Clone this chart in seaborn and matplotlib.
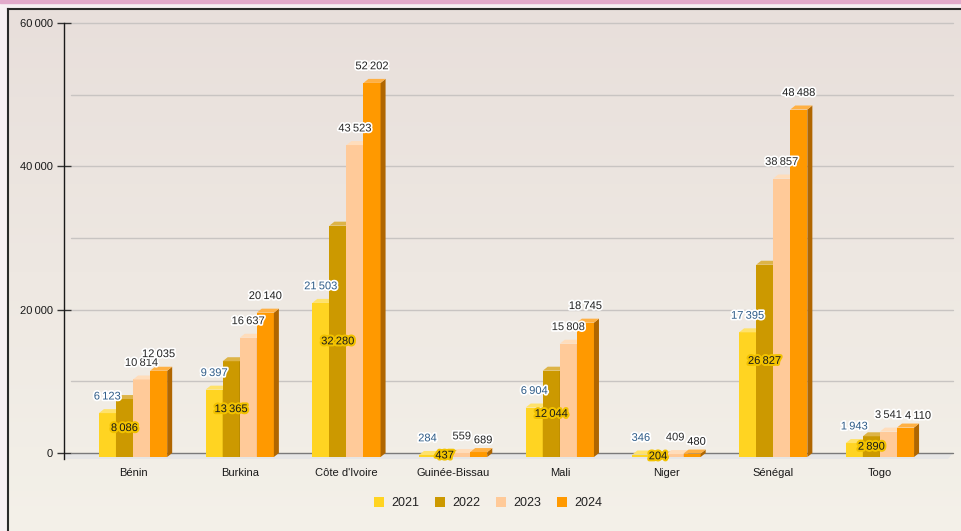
import numpy as np
import pandas as pd
import matplotlib
matplotlib.use("Agg")
import matplotlib.pyplot as plt
import seaborn as sns
from matplotlib.patches import Polygon, Rectangle, Patch
import matplotlib.patheffects as pe
from matplotlib.colors import to_rgb

countries = ["Bénin", "Burkina", "Côte d'Ivoire", "Guinée-Bissau", "Mali", "Niger", "Sénégal", "Togo"]
years = ["2021", "2022", "2023", "2024"]
v2021 = [6123, 9397, 21503, 284, 6904, 346, 17395, 1943]
v2022 = [8086, 13365, 32280, 437, 12044, 204, 26827, 2890]
v2023 = [10814, 16637, 43523, 559, 15808, 409, 38857, 3541]
v2024 = [12035, 20140, 52202, 689, 18745, 480, 48488, 4110]
yticks = [0, 20000, 40000, 60000]
ytick_labels = ["0", "20\u2009000", "40\u2009000", "60\u2009000"]

colors = ["#FFD422", "#CC9900", "#FFCA99", "#FF9900"]
top_colors = ["#FFE26A", "#DDB447", "#FFDDBB", "#FFB043"]
side_colors = ["#C9A000", "#8F6B00", "#D9A070", "#B06600"]
label_colors = ["#2E5C88", "#1A1A1A", "#2A2A2A", "#1F1F1F"]

sns.set_theme(style="white")
plt.rcParams['font.family'] = ['Liberation Sans', 'DejaVu Sans']

W, H = 962, 531
fig = plt.figure(figsize=(W / 100, H / 100), dpi=100)
fig.patch.set_facecolor('#F7F0F3')

# outer top pink strip
fig.add_artist(Rectangle((0, 1 - 3 / H), 1, 3 / H, transform=fig.transFigure,
                         color='#E2AACB', zorder=0))

# gradient panel with dark border
bg = fig.add_axes([8 / W, -0.01, 1 - 8 / W + 0.02, 1 - 9 / H + 0.01], zorder=0)
g = np.linspace(0, 1, 256)[:, None, None]
c_top = np.array(to_rgb('#E8DFDB'))
c_bot = np.array(to_rgb('#F4F1E9'))
img = c_top + (c_bot - c_top) * g
bg.imshow(img, aspect='auto', extent=[0, 1, 0, 1])
bg.set_xticks([])
bg.set_yticks([])
for s in ['right', 'bottom']:
    bg.spines[s].set_visible(False)
for s in ['left', 'top']:
    bg.spines[s].set_visible(True)
    bg.spines[s].set_color('#2A2A2A')
    bg.spines[s].set_linewidth(1.5)

# main axes
ax = fig.add_axes([64 / W, 1 - 453 / H, (953 - 64) / W, 430 / H], zorder=1)
ax.patch.set_alpha(0)

df = pd.DataFrame({
    'country': countries * 4,
    'year': np.repeat(years, len(countries)),
    'value': np.concatenate([v2021, v2022, v2023, v2024]),
})
sns.barplot(data=df, x='country', y='value', hue='year', hue_order=years,
            palette=colors, width=0.64, gap=0, saturation=1, legend=False,
            errorbar=None, ax=ax, linewidth=0)

x0lim, x1lim = -0.647, 7.685
ax.set_xlim(x0lim, x1lim)
ax.set_ylim(0, 60000)

px_x = (x1lim - x0lim) / (953 - 64)
px_y = 60000 / 430
dx = 5 * px_x
dy = 4 * px_y

# floor and grid (back wall)
ax.add_patch(Polygon([(x0lim, 0), (x1lim, 0), (x1lim - dx, -1.5 * dy), (x0lim, -1.5 * dy)],
                     closed=True, color='#E6E6E6', clip_on=False, zorder=0.3, lw=0))
for v in range(10000, 60001, 10000):
    ax.plot([x0lim + 1.4 * dx, x1lim], [v, v], color='#C8C4C2', lw=1, zorder=0.5, clip_on=False)
ax.plot([x0lim + 1.4 * dx, x1lim], [0, 0], color='#7A7A7A', lw=1, zorder=0.6, clip_on=False)

def fmt(v):
    return f"{v:,}".replace(",", "\u2009")

values = [v2021, v2022, v2023, v2024]
above = {}
for j, cont in enumerate(ax.containers):
    for i, rect in enumerate(cont):
        x = rect.get_x()
        w = rect.get_width()
        h = rect.get_height()
        z = 3 + j
        # front face sits one depth step in front of the back wall
        rect.set_y(-dy)
        rect.set_clip_on(False)
        rect.set_zorder(z)
        ax.add_patch(Polygon([(x + w, -dy), (x + w + dx, 0), (x + w + dx, h), (x + w, h - dy)],
                             closed=True, color=side_colors[j], lw=0, zorder=z + 0.4, clip_on=False))
        ax.add_patch(Polygon([(x, h - dy), (x + dx, h), (x + w + dx, h), (x + w, h - dy)],
                             closed=True, color=top_colors[j], lw=0, zorder=z + 0.4, clip_on=False))
        xc = x + w / 2
        if j == 1:
            ax.text(xc, h / 2 - dy, fmt(values[j][i]), ha='center', va='center', fontsize=8,
                    color=label_colors[j], zorder=20,
                    path_effects=[pe.withStroke(linewidth=3, foreground='#F2C200')])
        else:
            t = ax.annotate(fmt(values[j][i]), (xc, h), xytext=(0, 5.5),
                            textcoords='offset points', ha='center', va='bottom', fontsize=8,
                            color=label_colors[j], zorder=20, annotation_clip=False,
                            path_effects=[pe.withStroke(linewidth=2.5, foreground='white')])
            above[(i, j)] = t

# simple collision avoidance between neighbouring labels in a group
fig.canvas.draw()
r = fig.canvas.get_renderer()
for i in range(len(countries)):
    prev = None
    for j in (0, 2, 3):
        t = above[(i, j)]
        if prev is not None:
            b0 = prev.get_window_extent(r)
            b1 = t.get_window_extent(r)
            voverlap = min(b0.y1, b1.y1) - max(b0.y0, b1.y0)
            if b1.x0 < b0.x1 + 2 and voverlap > 4:
                shift_px = (b0.x1 + 3) - b1.x0
                ox, oy = t.xyann
                t.xyann = (ox + shift_px * 72 / 100, oy - 3.5)
        prev = t

# axes styling
for s in ['top', 'right', 'bottom']:
    ax.spines[s].set_visible(False)
ax.spines['left'].set_visible(True)
ax.spines['left'].set_color('#1A1A1A')
ax.spines['left'].set_linewidth(1)
ax.spines['left'].set_bounds(-1.5 * dy, 60000)
ax.set_yticks(yticks)
ax.set_yticklabels(ytick_labels)
ax.tick_params(axis='y', direction='inout', length=10, width=1, color='#333333',
               labelsize=8, labelcolor='#1A1A1A', pad=3, left=True)
ax.tick_params(axis='x', length=0, labelsize=8, labelcolor='#1A1A1A', pad=11)
ax.set_xlabel('')
ax.set_ylabel('')
ax.grid(False)

handles = [Patch(facecolor=c, edgecolor='none', label=y) for c, y in zip(colors, years)]
fig.legend(handles=handles, loc='center', bbox_to_anchor=(488 / W, 1 - 503 / H),
           ncol=4, frameon=False, fontsize=9, handlelength=0.8, handleheight=0.8,
           handletextpad=0.6, columnspacing=1.25, labelcolor='#222222')

fig.savefig('out.png', dpi=100, facecolor=fig.get_facecolor())
